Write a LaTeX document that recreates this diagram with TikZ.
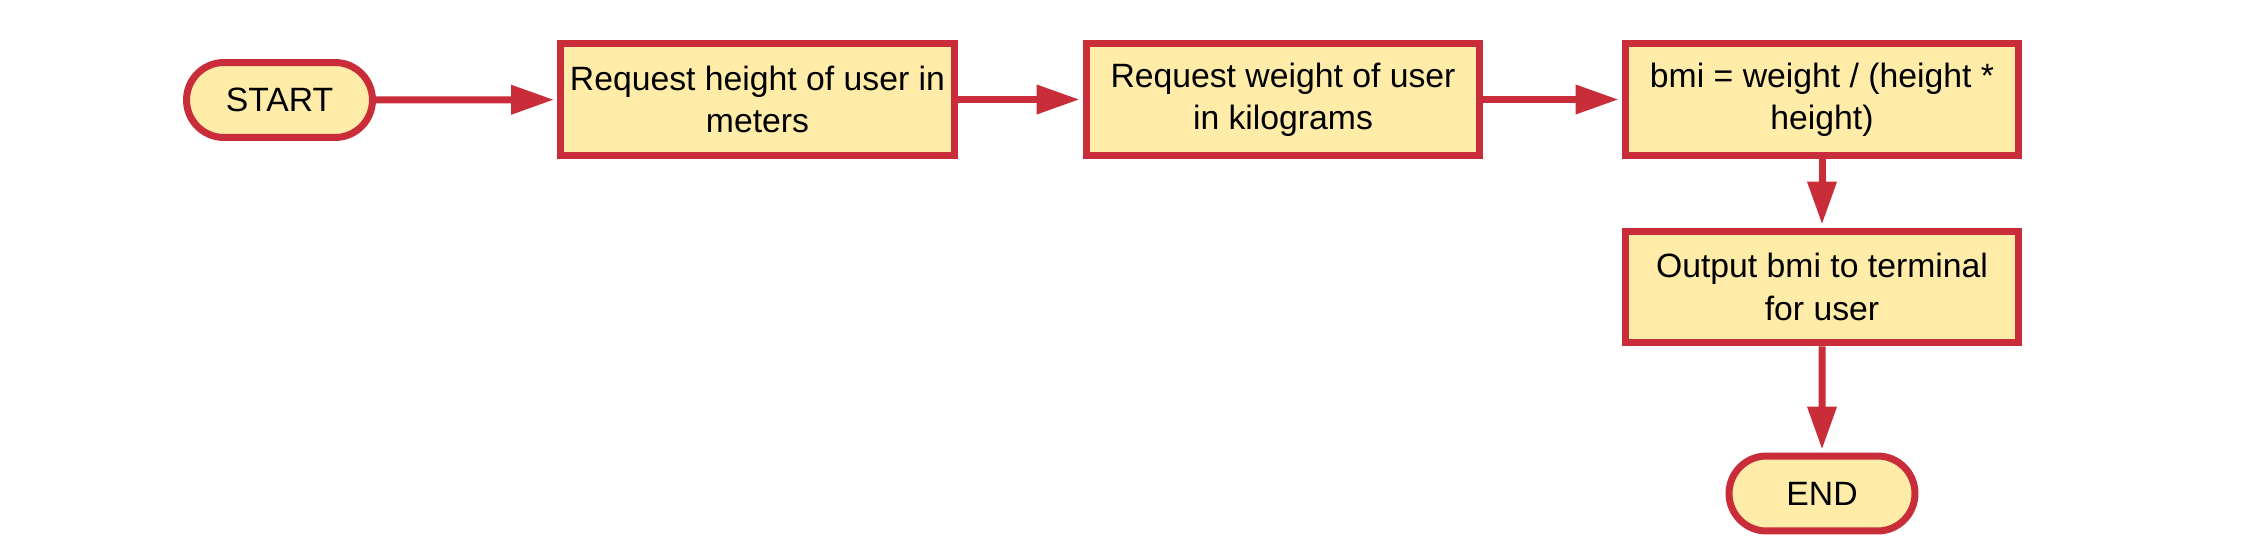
\documentclass[tikz,border=0pt]{standalone}
\usepackage{fontspec}
\setmainfont{Liberation Sans}
\usetikzlibrary{arrows.meta,shapes.misc}
\definecolor{relleno}{RGB}{255,236,168}
\definecolor{borde}{RGB}{201,45,57}
\newcommand{\texto}{\fontsize{19.2}{24}\selectfont}

\begin{document}
\begin{tikzpicture}[x=0.02cm, y=-0.02cm, font=\texto,
    caja/.style={draw=borde, fill=relleno, line width=0.14cm, align=center,
      minimum width=7.88cm, minimum height=2.24cm, inner sep=0pt},
    terminal/.style={draw=borde, fill=relleno, line width=0.14cm, rounded rectangle,
      minimum width=3.72cm, minimum height=1.5cm, inner sep=0pt},
    flecha/.style={draw=borde, line width=0.14cm, shorten >=0.06cm,
      -{Triangle[length=0.86cm, width=0.56cm]}}]
  \useasboundingbox (0,0) rectangle (2244,557);
  \node[terminal] (inicio) at (279.5,100) {START};
  \node[caja] (altura) at (757.5,99.5) {Request height of user in\\meters};
  \node[caja] (peso) at (1283,99.5) {Request weight of user\\in kilograms};
  \node[caja] (calculo) at (1822,99.5) {bmi = weight / (height *\\height)};
  \node[caja] (salida) at (1822,287) {Output bmi to terminal\\for user};
  \node[terminal] (fin) at (1822,493.5) {END};
  \draw[flecha] (inicio) -- (altura);
  \draw[flecha] (altura) -- (peso);
  \draw[flecha] (peso) -- (calculo);
  \draw[flecha] (calculo) -- (salida);
  \draw[flecha] (salida) -- (fin);
\end{tikzpicture}
\end{document}
